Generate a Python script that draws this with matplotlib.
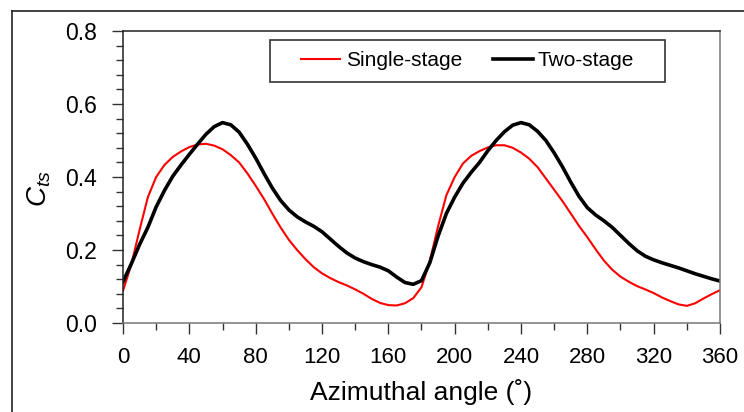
import numpy as np
import matplotlib
matplotlib.use('Agg')
import matplotlib.pyplot as plt
from matplotlib.lines import Line2D
from matplotlib.patches import Rectangle
from matplotlib.ticker import MultipleLocator

plt.rcParams['font.family'] = ['Liberation Sans', 'DejaVu Sans']
plt.rcParams['mathtext.fontset'] = 'custom'
plt.rcParams['mathtext.rm'] = 'Liberation Sans'
plt.rcParams['mathtext.it'] = 'Liberation Sans:italic'

# Azimuthal angle (deg), sampled every 5 deg
angle = list(range(0, 365, 5))

# Single-stage rotor torque coefficient
single_stage = [0.088, 0.16, 0.255, 0.345, 0.40, 0.433, 0.455, 0.47, 0.482, 0.489,
                0.491, 0.486, 0.476, 0.46, 0.44, 0.41, 0.376, 0.34, 0.30, 0.262,
                0.228, 0.20, 0.175, 0.153, 0.136, 0.123, 0.112, 0.103, 0.092, 0.08,
                0.066, 0.055, 0.049, 0.048, 0.054, 0.068, 0.098, 0.170, 0.265, 0.35,
                0.40, 0.437, 0.458, 0.471, 0.481, 0.487, 0.487, 0.48, 0.467, 0.45,
                0.427, 0.396, 0.365, 0.334, 0.30, 0.266, 0.235, 0.202, 0.171, 0.146,
                0.127, 0.113, 0.101, 0.092, 0.082, 0.07, 0.06, 0.051, 0.047, 0.054,
                0.067, 0.079, 0.09]

# Two-stage rotor torque coefficient
two_stage = [0.113, 0.162, 0.215, 0.262, 0.318, 0.363, 0.402, 0.433, 0.462, 0.49,
             0.517, 0.538, 0.549, 0.543, 0.523, 0.49, 0.452, 0.41, 0.37, 0.336,
             0.31, 0.291, 0.277, 0.265, 0.25, 0.23, 0.21, 0.192, 0.178, 0.168,
             0.16, 0.153, 0.143, 0.126, 0.111, 0.106, 0.116, 0.165, 0.238, 0.30,
             0.345, 0.383, 0.413, 0.44, 0.472, 0.50, 0.524, 0.542, 0.549, 0.543,
             0.525, 0.50, 0.466, 0.428, 0.386, 0.347, 0.316, 0.296, 0.28, 0.262,
             0.24, 0.218, 0.198, 0.183, 0.173, 0.165, 0.158, 0.151, 0.143, 0.135,
             0.128, 0.121, 0.115]

xticks = [0, 40, 80, 120, 160, 200, 240, 280, 320, 360]
yticks = [0.0, 0.2, 0.4, 0.6, 0.8]

fig = plt.figure(figsize=(7.44, 4.12), dpi=100)
W, H = 744.0, 412.0
ax = fig.add_axes([123/W, 1-323/H, (720-123)/W, (323-31)/H])

ax.plot(angle, single_stage, color='#ff0000', lw=1.5, label='Single-stage',
        solid_joinstyle='round')
ax.plot(angle, two_stage, color='black', lw=2.6, label='Two-stage',
        solid_joinstyle='round')

ax.set_xlim(0, 360)
ax.set_ylim(0, 0.8)
ax.set_xticks(xticks)
ax.set_yticks(yticks)
ax.set_yticklabels(['%.1f' % v for v in yticks])
ax.xaxis.set_minor_locator(MultipleLocator(20))
ax.yaxis.set_minor_locator(MultipleLocator(0.04))
ax.tick_params(which='major', direction='out', length=8, width=1.0, color='#333333')
ax.tick_params(which='minor', direction='out', length=5, width=1.0, color='#333333')
ax.tick_params(axis='x', pad=9, labelsize=16)
ax.tick_params(axis='y', pad=11, labelsize=16.5)

for side in ['left', 'top']:
    ax.spines[side].set_color('#222222')
for side in ['bottom', 'right']:
    ax.spines[side].set_color('#777777')
for side in ax.spines:
    ax.spines[side].set_linewidth(1.1)

ax.set_xlabel('Azimuthal angle (˚)', fontsize=19, labelpad=8)
ax.set_ylabel('$C_{ts}$', fontsize=20)
ax.yaxis.set_label_coords(-0.118, 0.46)

# legend with a plain rectangular box
ax.legend(loc='center', bbox_to_anchor=((467.5-123)/597, (323-61)/292), ncol=2,
          frameon=False, fontsize=15, handlelength=1.9, handletextpad=0.25,
          columnspacing=1.5)
ax.add_patch(Rectangle(((270-123)/597, (323-82)/292), 395/597, 42/292,
                       transform=ax.transAxes, fill=False, edgecolor='#333333', lw=1.2))

# outer frame of the figure
fig.add_artist(Line2D([12/W, 1.0], [1-11/H, 1-11/H], color='#222222', lw=1.2))
fig.add_artist(Line2D([12/W, 12/W], [0.0, 1-11/H], color='#222222', lw=1.2))

fig.savefig('out.png', dpi=100)
